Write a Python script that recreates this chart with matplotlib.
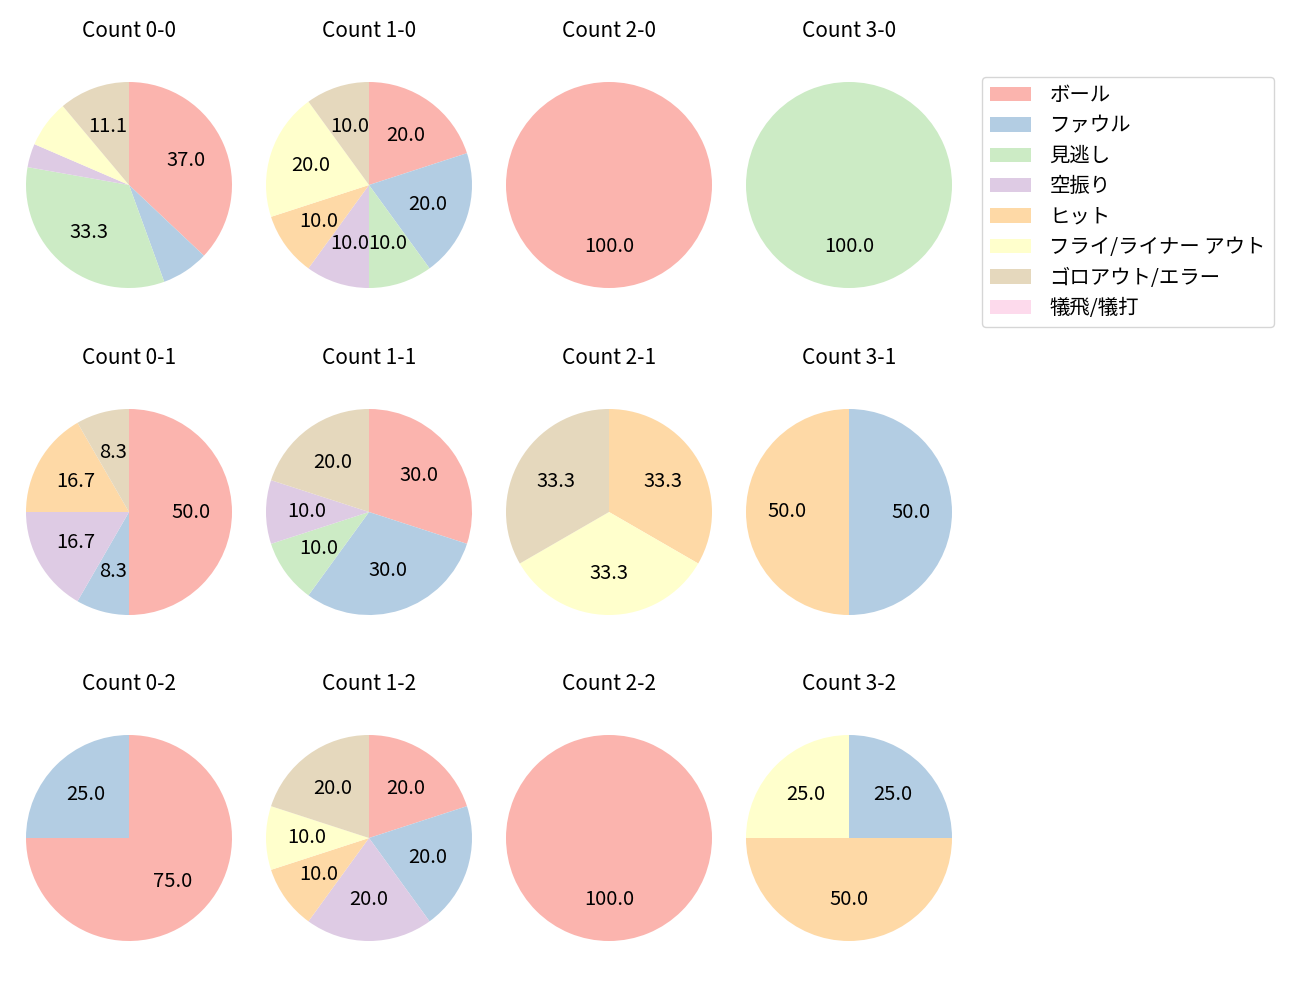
import matplotlib
matplotlib.use("Agg")
from matplotlib import pyplot as plt

plt.rcParams['font.family'] = ['Noto Sans CJK JP', 'DejaVu Sans']

labels = ["ボール", "ファウル", "見逃し", "空振り", "ヒット",
          "フライ/ライナー アウト", "ゴロアウト/エラー", "犠飛/犠打"]
colors = plt.get_cmap("Pastel1").colors[:8]

# counts per result, same order as labels
c00 = [10, 2, 9, 1, 0, 2, 3, 0]
c10 = [2, 2, 1, 1, 1, 2, 1, 0]
c20 = [1, 0, 0, 0, 0, 0, 0, 0]
c30 = [0, 0, 1, 0, 0, 0, 0, 0]
c01 = [6, 1, 0, 2, 2, 0, 1, 0]
c11 = [3, 3, 1, 1, 0, 0, 2, 0]
c21 = [0, 0, 0, 0, 1, 1, 1, 0]
c31 = [0, 1, 0, 0, 1, 0, 0, 0]
c02 = [3, 1, 0, 0, 0, 0, 0, 0]
c12 = [2, 2, 0, 2, 1, 1, 2, 0]
c22 = [1, 0, 0, 0, 0, 0, 0, 0]
c32 = [0, 1, 0, 0, 2, 1, 0, 0]

rows = [
    [("Count 0-0", c00), ("Count 1-0", c10), ("Count 2-0", c20), ("Count 3-0", c30)],
    [("Count 0-1", c01), ("Count 1-1", c11), ("Count 2-1", c21), ("Count 3-1", c31)],
    [("Count 0-2", c02), ("Count 1-2", c12), ("Count 2-2", c22), ("Count 3-2", c32)],
]


def pct_fmt(p):
    return f"{p:.1f}" if p >= 8 else ""


W, H = 1300, 1000
fig = plt.figure(figsize=(13, 10), dpi=100)

col_x = [129, 369, 609, 849]
row_y = [185, 512, 838]
size = 257.5  # px, pie radius ~103 px

wedges = None
for i, row in enumerate(rows):
    for j, (title, vals) in enumerate(row):
        cx, cy = col_x[j], row_y[i]
        ax = fig.add_axes([(cx - size / 2) / W, 1 - (cy + size / 2) / H, size / W, size / H])
        w, _, _ = ax.pie(vals, colors=colors, startangle=90, counterclock=False,
                         autopct=pct_fmt, textprops={"fontsize": 14.5})
        ax.set_title(title, fontsize=15, pad=14)
        if wedges is None:
            wedges = w

fig.legend(wedges, labels, loc="upper left", bbox_to_anchor=(982 / W, 1 - 77 / H),
           fontsize=14.7, borderaxespad=0, labelspacing=0.46, handletextpad=0.9)

fig.savefig("out.png", dpi=100)
